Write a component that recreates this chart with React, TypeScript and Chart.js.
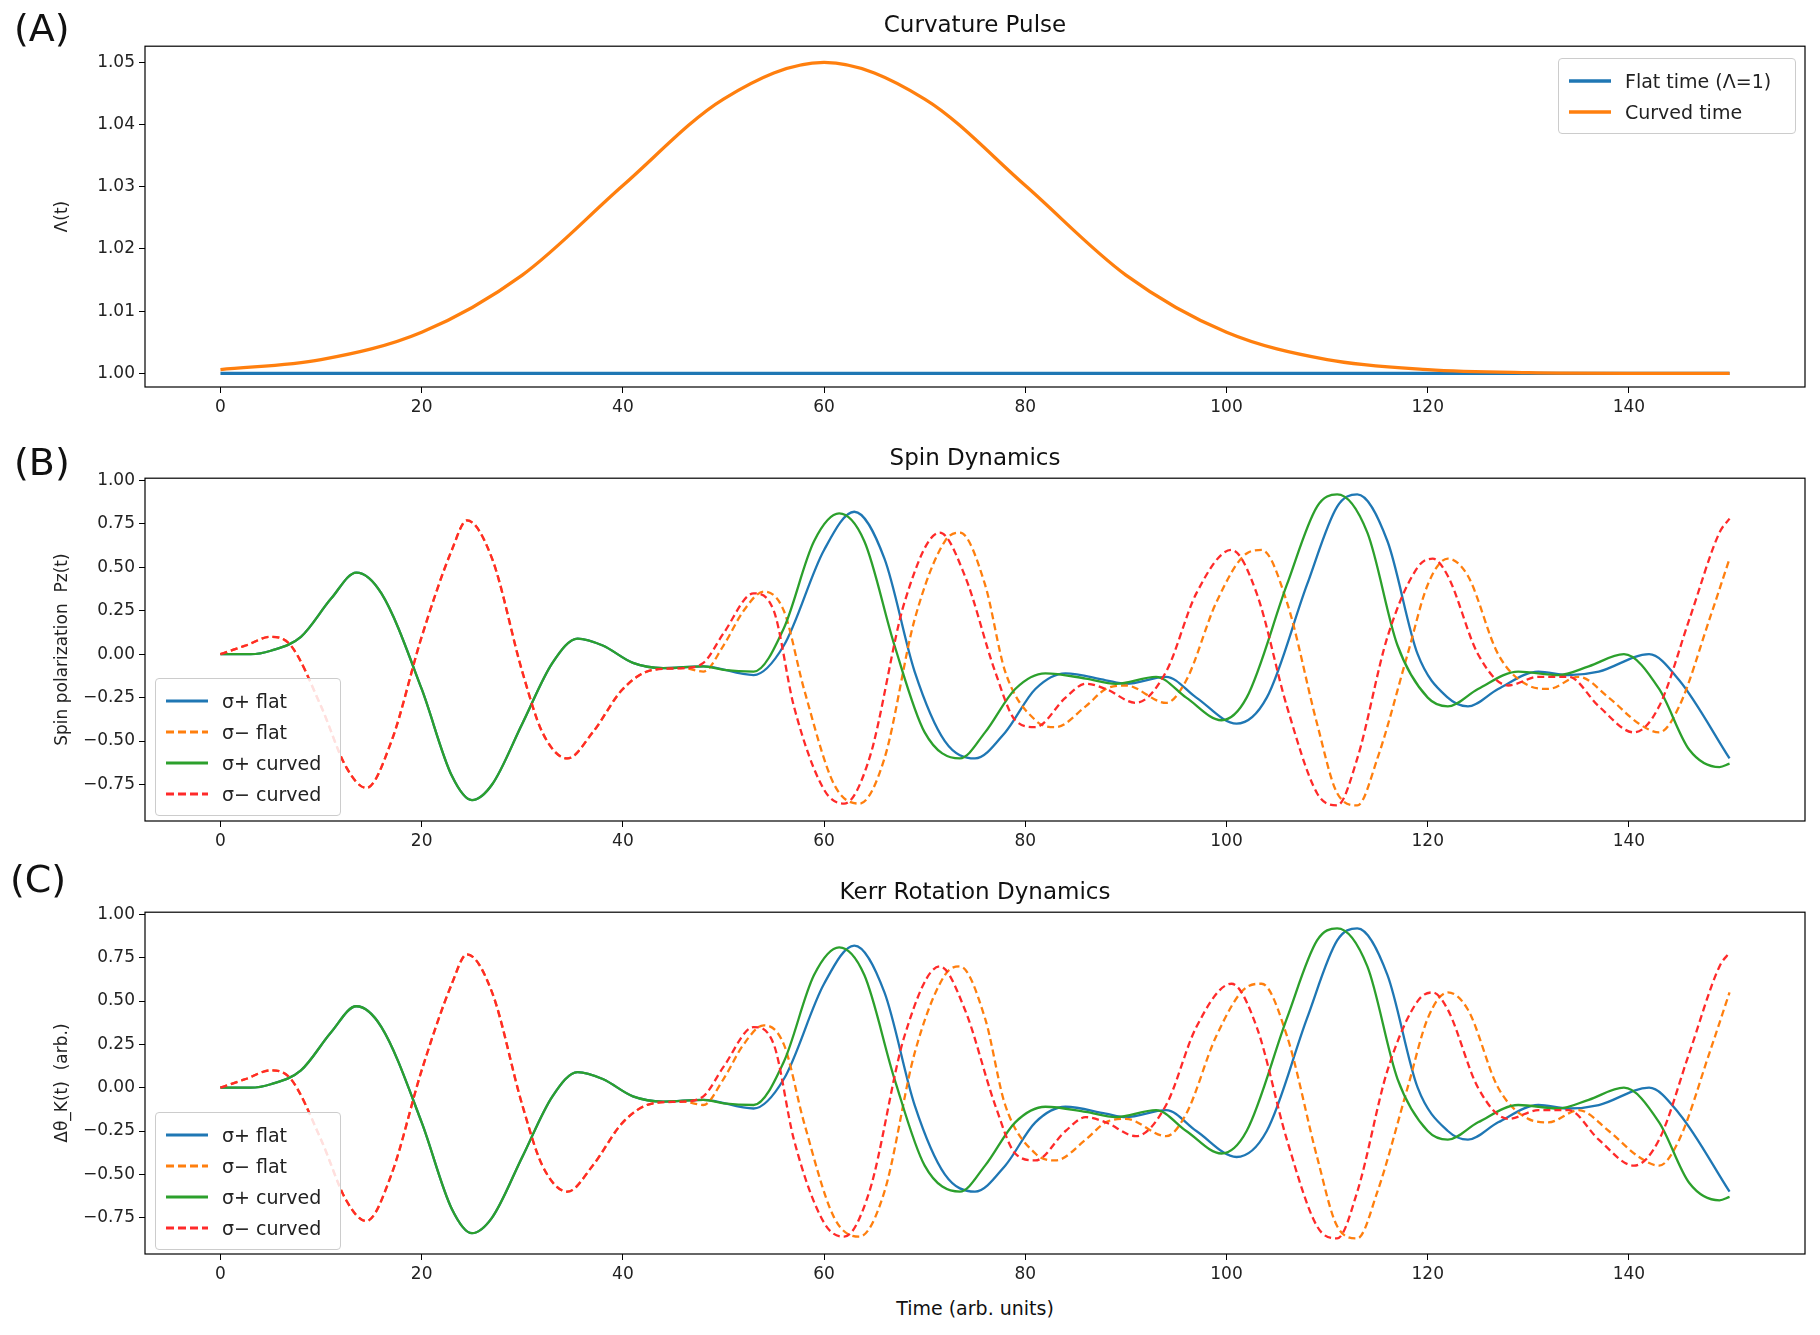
import React, { useEffect, useRef } from "react";
import Chart from "chart.js/auto";

const xTicks = [0, 20, 40, 60, 80, 100, 120, 140];
const aTicks = [1.0, 1.01, 1.02, 1.03, 1.04, 1.05];
const bTicks = [-0.75, -0.5, -0.25, 0, 0.25, 0.5, 0.75, 1.0];

const flatT = [0, 150];
const flatY = [1.0, 1.0];
const curvT = [0, 10, 20, 30, 40, 50, 60, 70, 80, 90, 100, 110, 120, 130, 140, 150];
const curvY = [1.0006, 1.0022, 1.0066, 1.0158, 1.0302, 1.0441, 1.05, 1.0441, 1.0302, 1.0158, 1.0066, 1.0022, 1.0006, 1.0001, 1.0, 1.0];

const spFlatT = [0, 3, 5, 8, 11, 13.5, 16, 20, 23, 25, 27, 30, 33, 35.5, 38, 41, 44, 48, 53, 56, 60, 63, 66, 69, 72, 75, 78, 81, 84, 88, 90, 94, 97, 101, 104, 108, 111, 113, 116, 119, 122, 124, 127, 131, 134, 137, 142, 145, 150];
const spFlatY = [0, 0, 0.02, 0.1, 0.32, 0.47, 0.35, -0.2, -0.7, -0.84, -0.75, -0.4, -0.05, 0.09, 0.05, -0.05, -0.08, -0.07, -0.12, 0.05, 0.6, 0.82, 0.55, -0.1, -0.5, -0.6, -0.45, -0.2, -0.11, -0.15, -0.17, -0.13, -0.25, -0.4, -0.25, 0.4, 0.85, 0.92, 0.65, 0, -0.25, -0.3, -0.2, -0.1, -0.12, -0.1, 0, -0.15, -0.6];
const spCurvT = [0, 3, 5, 8, 11, 13.5, 16, 20, 23, 25, 27, 30, 33, 35.5, 38, 41, 44, 48, 50, 53, 56, 59, 61.5, 64, 67, 70, 73.5, 76, 79, 82, 86, 89, 93, 96, 99.5, 102, 106, 109, 111, 114, 117, 120, 122, 125, 129, 133, 136, 139.5, 143, 146, 149, 150];
const spCurvY = [0, 0, 0.02, 0.1, 0.32, 0.47, 0.35, -0.2, -0.7, -0.84, -0.75, -0.4, -0.05, 0.09, 0.05, -0.05, -0.08, -0.07, -0.09, -0.1, 0.15, 0.65, 0.81, 0.65, 0.05, -0.45, -0.6, -0.45, -0.2, -0.11, -0.14, -0.17, -0.13, -0.25, -0.38, -0.25, 0.4, 0.85, 0.92, 0.7, 0.05, -0.25, -0.3, -0.2, -0.1, -0.12, -0.07, 0, -0.2, -0.55, -0.65, -0.63];
const smFlatT = [0, 2.5, 5, 7, 10, 12.5, 14.5, 17, 20, 23, 24.5, 27, 30, 32, 34.5, 37, 40, 43, 46, 48, 50, 52, 54, 56, 58, 61, 63.5, 66, 69, 72, 73.5, 76, 78, 81, 83, 86, 88, 90, 94, 96, 99, 102, 103.5, 106, 109, 111, 113, 115, 118, 120, 122, 124, 127, 130, 132, 135, 138, 141, 143, 145, 148, 150];
const smFlatY = [0, 0.05, 0.1, 0.05, -0.3, -0.65, -0.77, -0.5, 0.1, 0.6, 0.77, 0.55, -0.1, -0.45, -0.6, -0.45, -0.2, -0.09, -0.08, -0.1, 0.05, 0.25, 0.36, 0.25, -0.2, -0.75, -0.86, -0.6, 0.2, 0.65, 0.7, 0.4, -0.1, -0.38, -0.42, -0.3, -0.2, -0.18, -0.28, -0.15, 0.3, 0.58, 0.6, 0.3, -0.4, -0.8, -0.87, -0.6, 0, 0.4, 0.55, 0.45, 0, -0.18, -0.2, -0.13, -0.25, -0.4, -0.45, -0.3, 0.2, 0.55];
const smCurvT = [0, 2.5, 5, 7, 10, 12.5, 14.5, 17, 20, 23, 24.5, 27, 30, 32, 34.5, 37, 40, 43, 46, 48, 50, 53, 55, 57, 60, 62, 64.5, 68, 71.5, 74, 77, 79, 81, 84, 86, 88, 91, 94, 97, 100.5, 103, 106, 109, 111, 113, 116, 119, 120.5, 122, 125, 128, 131, 134, 137, 140.5, 143, 146, 149, 150];
const smCurvY = [0, 0.05, 0.1, 0.05, -0.3, -0.65, -0.77, -0.5, 0.1, 0.6, 0.77, 0.55, -0.1, -0.45, -0.6, -0.45, -0.2, -0.09, -0.08, -0.05, 0.12, 0.35, 0.25, -0.3, -0.78, -0.86, -0.6, 0.3, 0.7, 0.45, -0.1, -0.38, -0.42, -0.25, -0.17, -0.2, -0.28, -0.1, 0.35, 0.6, 0.35, -0.3, -0.8, -0.87, -0.6, 0.1, 0.5, 0.55, 0.45, 0, -0.18, -0.13, -0.13, -0.3, -0.45, -0.3, 0.2, 0.7, 0.78];

const C_BLUE = "#1f77b4", C_ORANGE = "#ff7f0e", C_GREEN = "#2ca02c", C_RED = "#ff2a2a";
const FONT = "DejaVu Sans";

const pts = (t: number[], y: number[]) => t.map((v, i) => ({ x: v, y: y[i] }));

const boxPlugin = {
  id: "box",
  afterDraw(chart: any) {
    const a = chart.chartArea, ctx = chart.ctx;
    ctx.save();
    ctx.strokeStyle = "#000";
    ctx.lineWidth = 1.2;
    ctx.strokeRect(a.left, a.top, a.right - a.left, a.bottom - a.top);
    ctx.restore();
  },
};

type DS = { label: string; t: number[]; y: number[]; color: string; dash?: boolean; width?: number };

function Panel(props: { top: number; height: number; yMin: number; yMax: number; yTicks: number[]; yTitle: string; fmt: (v: number) => string; ds: DS[] }) {
  const ref = useRef<HTMLCanvasElement>(null);
  useEffect(() => {
    const n = props.ds.length;
    const ch = new Chart(ref.current!, {
      type: "line",
      data: {
        datasets: props.ds.map((d, i) => ({
          label: d.label,
          data: pts(d.t, d.y),
          borderColor: d.color,
          borderWidth: d.width ?? 2.3,
          borderDash: d.dash ? [7, 4] : [],
          pointRadius: 0,
          cubicInterpolationMode: "monotone",
          fill: false,
          order: n - i,
        })),
      },
      options: {
        animation: false,
        responsive: false,
        layout: { padding: { top: 0, right: 15, left: 52, bottom: 0 } },
        plugins: { legend: { display: false }, tooltip: { enabled: false } },
        scales: {
          x: {
            type: "linear",
            min: -7.5,
            max: 157.5,
            afterBuildTicks: (s: any) => { s.ticks = xTicks.map((v) => ({ value: v })); },
            afterFit: (s: any) => { s.height = 40; },
            grid: { drawOnChartArea: false, tickLength: 6, color: "#000" },
            border: { display: false },
            ticks: { color: "#222", font: { family: FONT, size: 17 }, padding: 4, maxRotation: 0, callback: (v: any) => String(v) },
          },
          y: {
            min: props.yMin,
            max: props.yMax,
            afterBuildTicks: (s: any) => { s.ticks = props.yTicks.map((v) => ({ value: v })); },
            afterFit: (s: any) => { s.width = 93; },
            grid: { drawOnChartArea: false, tickLength: 6, color: "#000" },
            border: { display: false },
            ticks: { color: "#222", font: { family: FONT, size: 17 }, padding: 4, callback: (v: any) => props.fmt(Number(v)) },
            title: { display: true, text: props.yTitle, color: "#222", font: { family: FONT, size: 17 }, padding: 0 },
          },
        },
      },
      plugins: [boxPlugin],
    } as any);
    return () => ch.destroy();
  }, []);
  return <canvas ref={ref} width={1820} height={props.height} style={{ position: "absolute", left: 0, top: props.top, width: 1820, height: props.height }} />;
}

function Legend(props: { left: number; top: number; width: number; items: DS[]; rowH: number }) {
  return (
    <div style={{ position: "absolute", left: props.left, top: props.top, width: props.width, border: "1px solid #ccc", borderRadius: 4, background: "rgba(255,255,255,0.85)", padding: "6px 8px", boxSizing: "border-box", fontFamily: FONT, fontSize: 19, color: "#222" }}>
      {props.items.map((it, i) => (
        <div key={i} style={{ display: "flex", alignItems: "center", height: props.rowH }}>
          <svg width={46} height={10} style={{ marginRight: 12 }}>
            <line x1={2} y1={5} x2={44} y2={5} stroke={it.color} strokeWidth={it.width ?? 3} strokeDasharray={it.dash ? "8 4" : undefined} />
          </svg>
          <span>{it.label}</span>
        </div>
      ))}
    </div>
  );
}

const textAbs = (left: number, top: number, s: string, size: number, center = false): React.ReactElement => (
  <div style={{ position: "absolute", left, top, fontFamily: FONT, fontSize: size, color: "#111", whiteSpace: "nowrap", transform: center ? "translate(-50%,-50%)" : undefined }}>{s}</div>
);

export default function App() {
  const dsA: DS[] = [
    { label: "Flat time (Λ=1)", t: flatT, y: flatY, color: C_BLUE, width: 3.3 },
    { label: "Curved time", t: curvT, y: curvY, color: C_ORANGE, width: 3.3 },
  ];
  const dsB: DS[] = [
    { label: "σ+ flat", t: spFlatT, y: spFlatY, color: C_BLUE },
    { label: "σ− flat", t: smFlatT, y: smFlatY, color: C_ORANGE, dash: true },
    { label: "σ+ curved", t: spCurvT, y: spCurvY, color: C_GREEN },
    { label: "σ− curved", t: smCurvT, y: smCurvY, color: C_RED, dash: true },
  ];
  const ph = (top: number, bottom: number) => bottom - top + 15 + 40;
  return (
    <div style={{ position: "absolute", left: 0, top: 0, width: 1820, height: 1335, background: "#fff" }}>
      <Panel top={32} height={ph(47, 387)} yMin={0.9978} yMax={1.0526} yTicks={aTicks} yTitle="Λ(t)" fmt={(v) => v.toFixed(2)} ds={dsA} />
      <Panel top={464} height={ph(479, 821)} yMin={-0.96} yMax={1.013} yTicks={bTicks} yTitle="Spin polarization  Pz(t)" fmt={(v) => v.toFixed(2).replace("-", "−")} ds={dsB} />
      <Panel top={898} height={ph(913, 1254)} yMin={-0.96} yMax={1.013} yTicks={bTicks} yTitle="Δθ_K(t)  (arb.)" fmt={(v) => v.toFixed(2).replace("-", "−")} ds={dsB} />
      {textAbs(975, 24, "Curvature Pulse", 23, true)}
      {textAbs(975, 457, "Spin Dynamics", 23, true)}
      {textAbs(975, 891, "Kerr Rotation Dynamics", 23, true)}
      {textAbs(975, 1308, "Time (arb. units)", 19, true)}
      {textAbs(14, 6, "(A)", 38)}
      {textAbs(14, 440, "(B)", 38)}
      {textAbs(10, 857, "(C)", 38)}
      <Legend left={1558} top={58} width={238} items={dsA} rowH={31} />
      <Legend left={155} top={678} width={186} items={dsB} rowH={31} />
      <Legend left={155} top={1112} width={186} items={dsB} rowH={31} />
    </div>
  );
}
